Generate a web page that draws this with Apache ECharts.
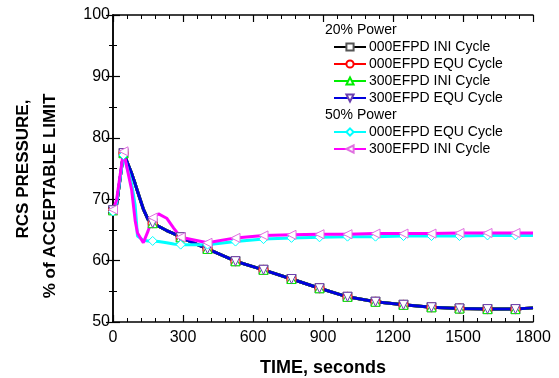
<!DOCTYPE html>
<html>
<head>
<meta charset="utf-8">
<script src="https://cdn.jsdelivr.net/npm/echarts@6/dist/echarts.min.js"></script>
<style>
  html, body { margin: 0; padding: 0; background: #fff; }
  #chart { width: 559px; height: 378px; }
</style>
</head>
<body>
<div id="chart"></div>
<script>
// time points (s) shared by all curves
const times = [0, 15, 45, 80, 95, 105, 130, 150, 170, 195, 230, 260, 290, 405, 525, 645, 765, 885, 1005, 1125, 1245, 1365, 1485, 1605, 1725, 1800];
// times where a marker is drawn
const markerTimes = [0, 45, 170, 290, 405, 525, 645, 765, 885, 1005, 1125, 1245, 1365, 1485, 1605, 1725];

// 20% power
const p20_000ini = [68.2, 69.0, 77.5, 74.2, 72.5, 71.3, 68.4, 66.7, 66.1, 65.6, 64.9, 64.4, 63.8, 61.9, 59.9, 58.5, 57.0, 55.5, 54.1, 53.3, 52.8, 52.4, 52.2, 52.1, 52.1, 52.3];
const p20_000equ = [68.2, 69.0, 77.5, 74.2, 72.5, 71.3, 68.4, 66.7, 66.1, 65.6, 64.9, 64.4, 63.8, 61.9, 59.9, 58.5, 57.0, 55.5, 54.1, 53.3, 52.8, 52.4, 52.2, 52.1, 52.1, 52.3];
const p20_300ini = [68.2, 69.0, 77.5, 74.2, 72.5, 71.3, 68.4, 66.7, 66.1, 65.6, 64.9, 64.4, 63.8, 61.9, 59.9, 58.5, 57.0, 55.5, 54.1, 53.3, 52.8, 52.4, 52.2, 52.1, 52.1, 52.3];
const p20_300equ = [68.2, 69.0, 77.5, 74.2, 72.5, 71.3, 68.4, 66.7, 66.1, 65.6, 64.9, 64.4, 63.8, 61.9, 59.9, 58.5, 57.0, 55.5, 54.1, 53.3, 52.8, 52.4, 52.2, 52.1, 52.1, 52.3];
// 50% power
const p50_000equ = [68.0, 69.4, 77.2, 72.5, 69.0, 64.0, 63.3, 63.2, 63.2, 63.1, 62.9, 62.7, 62.6, 62.6, 63.1, 63.5, 63.7, 63.8, 63.9, 63.9, 64.0, 64.0, 64.0, 64.1, 64.1, 64.1];
const p50_300ini = [68.3, 69.8, 77.8, 71.5, 66.5, 64.5, 62.9, 64.8, 67.0, 67.6, 66.9, 65.3, 63.8, 62.9, 63.7, 64.1, 64.2, 64.3, 64.3, 64.4, 64.4, 64.4, 64.5, 64.5, 64.5, 64.5];

const xTicks = [0, 300, 600, 900, 1200, 1500, 1800];
const yTicks = [50, 60, 70, 80, 90, 100];

const FONT = "'Liberation Sans', Arial, sans-serif";

function mkData(vals) {
  return times.map((t, i) => {
    const item = { value: [t, vals[i]] };
    if (markerTimes.indexOf(t) < 0) item.symbol = "none";
    return item;
  });
}

function mkSeries(name, vals, color, symbol, rotate, border) {
  return {
    name,
    type: "line",
    data: mkData(vals),
    symbol,
    symbolRotate: rotate,
    symbolSize: 9,
    showAllSymbol: true,
    lineStyle: { color, width: 3 },
    itemStyle: { color: "#fff", borderColor: border || color, borderWidth: 1 },
    emphasis: { disabled: true },
    z: 3,
  };
}

const series = [
  mkSeries("20|000EFPD INI Cycle", p20_000ini, "#000000", "rect", 0, "#555"),
  mkSeries("20|000EFPD EQU Cycle", p20_000equ, "#ff0000", "circle", 0),
  mkSeries("20|300EFPD INI Cycle", p20_300ini, "#00ee00", "triangle", 0),
  mkSeries("20|300EFPD EQU Cycle", p20_300equ, "#0000dd", "triangle", 180, "#6a3fb0"),
  mkSeries("50|000EFPD EQU Cycle", p50_000equ, "#00ffff", "diamond", 0),
  mkSeries("50|300EFPD INI Cycle", p50_300ini, "#ff00ff", "triangle", 90, "#e070e0"),
];

const legendBase = {
  orient: "vertical",
  left: 333,
  padding: 0,
  itemWidth: 32,
  itemHeight: 9,
  itemGap: 3,
  selectedMode: false,
  formatter: (n) => n.split("|")[1],
  textStyle: { fontFamily: FONT, fontSize: 14, color: "#000", padding: [0, 0, 0, -2] },
};

const axisCommon = {
  axisLine: { show: true, lineStyle: { color: "#000", width: 1.5 } },
  axisTick: { show: true, inside: true, length: 7, lineStyle: { color: "#000", width: 1.2 } },
  minorTick: { show: true, length: 4, lineStyle: { color: "#000", width: 1 } },
  splitLine: { show: false },
};

const chart = echarts.init(document.getElementById("chart"));
chart.setOption({
  animation: false,
  backgroundColor: "#fff",
  grid: { left: 113, right: 26, top: 15, bottom: 56, containLabel: false, outerBoundsMode: "none" },
  xAxis: [
    {
      type: "value", min: 0, max: 1800, interval: 300,
      name: "TIME, seconds", nameLocation: "middle", nameGap: 37,
      nameTextStyle: { fontFamily: FONT, fontSize: 18, fontWeight: "bold", color: "#000" },
      axisLabel: { fontFamily: FONT, fontSize: 16, color: "#000", margin: 8,
        formatter: (v) => (xTicks.indexOf(v) >= 0 ? String(v) : "") },
      minorTick: Object.assign({}, axisCommon.minorTick, { splitNumber: 5 }),
      axisLine: axisCommon.axisLine, axisTick: axisCommon.axisTick, splitLine: axisCommon.splitLine,
    },
    {
      type: "value", min: 0, max: 1800, interval: 300, position: "top",
      axisLabel: { show: false },
      minorTick: Object.assign({}, axisCommon.minorTick, { splitNumber: 5 }),
      axisLine: axisCommon.axisLine, axisTick: axisCommon.axisTick, splitLine: axisCommon.splitLine,
    },
  ],
  yAxis: [
    {
      type: "value", min: 50, max: 100, interval: 10,
      axisLabel: { fontFamily: FONT, fontSize: 16, color: "#000", margin: 3,
        formatter: (v) => (yTicks.indexOf(v) >= 0 ? String(v) : "") },
      minorTick: Object.assign({}, axisCommon.minorTick, { splitNumber: 2 }),
      axisLine: axisCommon.axisLine, axisTick: axisCommon.axisTick, splitLine: axisCommon.splitLine,
    },
    {
      type: "value", min: 50, max: 100, interval: 10, position: "right",
      axisLabel: { show: false },
      minorTick: Object.assign({}, axisCommon.minorTick, { splitNumber: 2 }),
      axisLine: axisCommon.axisLine, axisTick: axisCommon.axisTick, splitLine: axisCommon.splitLine,
    },
  ],
  legend: [
    Object.assign({}, legendBase, { top: 40, data: series.slice(0, 4).map((s) => s.name) }),
    Object.assign({}, legendBase, { top: 125, data: series.slice(4).map((s) => s.name) }),
  ],
  graphic: [
    { type: "text", left: 325, top: 23, style: { text: "20% Power", font: "14px " + FONT, fill: "#000" } },
    { type: "text", left: 325, top: 108, style: { text: "50% Power", font: "14px " + FONT, fill: "#000" } },
    { type: "text", x: 23, y: 169, rotation: Math.PI / 2,
      style: { text: "RCS PRESSURE,", font: "bold 17px " + FONT, fill: "#000", align: "center", verticalAlign: "middle" } },
    { type: "text", x: 50, y: 196, rotation: Math.PI / 2,
      style: { text: "% of ACCEPTABLE LIMIT", font: "bold 17px " + FONT, fill: "#000", align: "center", verticalAlign: "middle" } },
  ],
  series,
});
</script>
</body>
</html>
